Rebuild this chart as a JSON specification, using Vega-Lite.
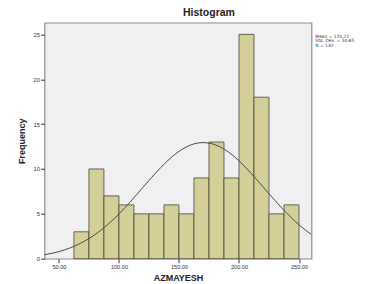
{
  "$schema": "https://vega.github.io/schema/vega-lite/v6.json",
  "width": 267,
  "height": 236,
  "autosize": {"type": "none"},
  "padding": {"left": 44.5, "top": 22.7, "right": 55.5, "bottom": 25.3},
  "config": {
    "font": "Liberation Sans",
    "view": {"fill": "#f0f0f0", "stroke": "#8c8c8c", "strokeWidth": 1.2},
    "axis": {"grid": false, "domain": false, "labelFont": "Liberation Sans", "titleFont": "Liberation Sans", "labelColor": "#333333", "tickColor": "#333333", "titleColor": "#222222"}
  },
  "title": {"text": "Histogram", "fontSize": 10.5, "fontWeight": "bold", "anchor": "middle", "dx": 31, "offset": 4, "color": "#222222", "font": "Liberation Sans"},
  "layer": [
    {
      "data": {"values": [
        {"bin_start": 62.5, "bin_end": 75, "count": 3},
        {"bin_start": 75, "bin_end": 87.5, "count": 10},
        {"bin_start": 87.5, "bin_end": 100, "count": 7},
        {"bin_start": 100, "bin_end": 112.5, "count": 6},
        {"bin_start": 112.5, "bin_end": 125, "count": 5},
        {"bin_start": 125, "bin_end": 137.5, "count": 5},
        {"bin_start": 137.5, "bin_end": 150, "count": 6},
        {"bin_start": 150, "bin_end": 162.5, "count": 5},
        {"bin_start": 162.5, "bin_end": 175, "count": 9},
        {"bin_start": 175, "bin_end": 187.5, "count": 13},
        {"bin_start": 187.5, "bin_end": 200, "count": 9},
        {"bin_start": 200, "bin_end": 212.5, "count": 25},
        {"bin_start": 212.5, "bin_end": 225, "count": 18},
        {"bin_start": 225, "bin_end": 237.5, "count": 5},
        {"bin_start": 237.5, "bin_end": 250, "count": 6}
      ]},
      "mark": {"type": "rect", "fill": "#d4cf98", "stroke": "#45453a", "strokeWidth": 0.8},
      "encoding": {
        "x": {"field": "bin_start", "type": "quantitative", "scale": {"domain": [38, 260.4], "nice": false, "zero": false},
              "axis": {"title": "AZMAYESH", "values": [50, 100, 150, 200, 250], "format": ".2f", "labelFontSize": 5.6, "tickSize": 4, "labelPadding": 1.5, "titleFontSize": 9, "titleFontWeight": "bold", "titlePadding": 4}},
        "x2": {"field": "bin_end"},
        "y": {"field": "count", "type": "quantitative", "scale": {"domain": [0, 26.3], "nice": false},
              "axis": {"title": "Frequency", "values": [0, 5, 10, 15, 20, 25], "labelFontSize": 5.8, "tickSize": 4, "labelPadding": 1, "titleFontSize": 9, "titleFontWeight": "bold", "titlePadding": 7}},
        "y2": {"datum": 0}
      }
    },
    {
      "data": {"values": [
        {"x": 38, "y": 0.440}, {"x": 45, "y": 0.624}, {"x": 50, "y": 0.791}, {"x": 55, "y": 0.993},
        {"x": 60, "y": 1.235}, {"x": 65, "y": 1.521}, {"x": 70, "y": 1.856}, {"x": 75, "y": 2.241},
        {"x": 80, "y": 2.682}, {"x": 85, "y": 3.178}, {"x": 90, "y": 3.728}, {"x": 95, "y": 4.333},
        {"x": 100, "y": 4.987}, {"x": 105, "y": 5.685}, {"x": 110, "y": 6.418}, {"x": 115, "y": 7.176},
        {"x": 120, "y": 7.945}, {"x": 125, "y": 8.714}, {"x": 130, "y": 9.464}, {"x": 135, "y": 10.180},
        {"x": 140, "y": 10.845}, {"x": 145, "y": 11.442}, {"x": 150, "y": 11.956}, {"x": 155, "y": 12.373},
        {"x": 160, "y": 12.681}, {"x": 165, "y": 12.872}, {"x": 170, "y": 12.940}, {"x": 175, "y": 12.883},
        {"x": 180, "y": 12.703}, {"x": 185, "y": 12.405}, {"x": 190, "y": 11.997}, {"x": 195, "y": 11.492},
        {"x": 200, "y": 10.901}, {"x": 205, "y": 10.241}, {"x": 210, "y": 9.529}, {"x": 215, "y": 8.781},
        {"x": 220, "y": 8.013}, {"x": 225, "y": 7.243}, {"x": 230, "y": 6.484}, {"x": 235, "y": 5.748},
        {"x": 240, "y": 5.047}, {"x": 245, "y": 4.389}, {"x": 250, "y": 3.779}, {"x": 255, "y": 3.223},
        {"x": 260, "y": 2.723}
      ]},
      "mark": {"type": "line", "stroke": "#4a4a4a", "strokeWidth": 1, "interpolate": "monotone"},
      "encoding": {
        "x": {"field": "x", "type": "quantitative"},
        "y": {"field": "y", "type": "quantitative"}
      }
    },
    {
      "data": {"values": [{"label": "Mean = 170.22"}]},
      "mark": {"type": "text", "align": "left", "baseline": "middle", "font": "DejaVu Sans", "fontSize": 4.4, "color": "#333333", "clip": false},
      "encoding": {"text": {"field": "label"}, "x": {"datum": 263.6}, "y": {"datum": 24.75}}
    },
    {
      "data": {"values": [{"label": "Std. Dev. = 50.85"}]},
      "mark": {"type": "text", "align": "left", "baseline": "middle", "font": "DejaVu Sans", "fontSize": 4.4, "color": "#333333", "clip": false},
      "encoding": {"text": {"field": "label"}, "x": {"datum": 263.6}, "y": {"datum": 24.25}}
    },
    {
      "data": {"values": [{"label": "N = 132"}]},
      "mark": {"type": "text", "align": "left", "baseline": "middle", "font": "DejaVu Sans", "fontSize": 4.4, "color": "#333333", "clip": false},
      "encoding": {"text": {"field": "label"}, "x": {"datum": 263.6}, "y": {"datum": 23.75}}
    }
  ]
}
